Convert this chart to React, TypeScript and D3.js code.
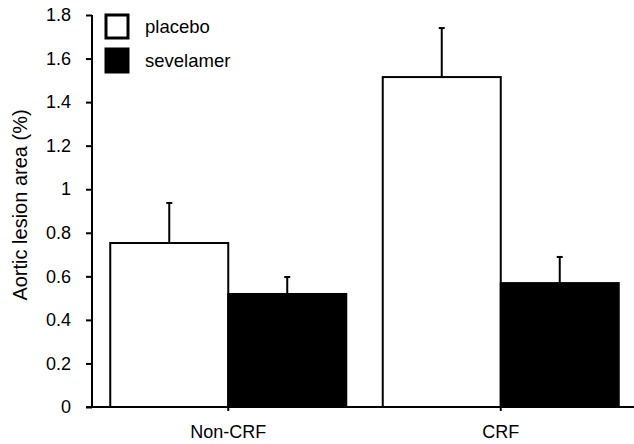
import React, { useEffect, useRef } from "react";
import * as d3 from "d3";

const categories = ["Non-CRF", "CRF"];
const groups = ["placebo", "sevelamer"];
const placeboValues = [0.753, 1.515];
const placeboErrors = [0.937, 1.74];
const sevelamerValues = [0.519, 0.569];
const sevelamerErrors = [0.597, 0.689];
const yTicks = [0, 0.2, 0.4, 0.6, 0.8, 1, 1.2, 1.4, 1.6, 1.8];
const groupFills = ["#ffffff", "#000000"];

export default function App() {
  const ref = useRef<SVGSVGElement>(null);

  useEffect(() => {
    const svg = d3.select(ref.current);
    svg.selectAll("*").remove();

    const x0 = 92,
      x1 = 637,
      yTop = 15,
      yBase = 407;

    const xScale = d3.scaleBand().domain(categories).range([x0, x1]).paddingInner(0).paddingOuter(0);
    const inner = d3.scaleBand().domain(groups).range([0, 236]);
    const yScale = d3.scaleLinear().domain([0, 1.8]).range([yBase, yTop]);

    const font = "'Liberation Sans', Arial, sans-serif";

    const rows = categories.flatMap((c, i) => [
      { cat: c, grp: "placebo", v: placeboValues[i], e: placeboErrors[i], fill: groupFills[0] },
      { cat: c, grp: "sevelamer", v: sevelamerValues[i], e: sevelamerErrors[i], fill: groupFills[1] }
    ]);

    const barX = (d: any) => xScale(d.cat)! + xScale.bandwidth() / 2 - 118 + inner(d.grp)!;

    // bars
    svg
      .selectAll("rect.bar")
      .data(rows)
      .enter()
      .append("rect")
      .attr("class", "bar")
      .attr("x", d => barX(d))
      .attr("y", d => yScale(d.v))
      .attr("width", inner.bandwidth())
      .attr("height", d => yBase - yScale(d.v))
      .attr("fill", d => d.fill)
      .attr("stroke", "#000")
      .attr("stroke-width", 2);

    // error bars
    const eb = svg.selectAll("g.err").data(rows).enter().append("g");
    eb.append("line")
      .attr("x1", d => barX(d) + inner.bandwidth() / 2)
      .attr("x2", d => barX(d) + inner.bandwidth() / 2)
      .attr("y1", d => yScale(d.v))
      .attr("y2", d => yScale(d.e))
      .attr("stroke", "#000")
      .attr("stroke-width", 2);
    eb.append("line")
      .attr("x1", d => barX(d) + inner.bandwidth() / 2 - 3)
      .attr("x2", d => barX(d) + inner.bandwidth() / 2 + 3)
      .attr("y1", d => yScale(d.e))
      .attr("y2", d => yScale(d.e))
      .attr("stroke", "#000")
      .attr("stroke-width", 2);

    // y axis
    const yAxis = svg
      .append("g")
      .attr("transform", `translate(${x0},0)`)
      .call(
        d3
          .axisLeft(yScale)
          .tickValues(yTicks)
          .tickSize(6)
          .tickPadding(15)
          .tickFormat(d => String(d))
      );
    yAxis.select(".domain").attr("stroke", "#000").attr("stroke-width", 2).attr("d", `M0,${yTop}V${yBase}`);
    yAxis.selectAll(".tick line").attr("stroke-width", 2);
    yAxis.selectAll("text").attr("font-family", font).attr("font-size", 18).attr("fill", "#000");

    // x axis
    const xAxis = svg
      .append("g")
      .attr("transform", `translate(0,${yBase})`)
      .call(d3.axisBottom(xScale).tickSize(4).tickPadding(14));
    xAxis.select(".domain").attr("stroke-width", 2).attr("d", `M86,0H634`);
    xAxis.selectAll(".tick line").attr("stroke-width", 2);
    xAxis.selectAll("text").attr("font-family", font).attr("font-size", 18).attr("fill", "#000");

    // y title
    svg
      .append("text")
      .attr("transform", `translate(27,${205}) rotate(-90)`)
      .attr("text-anchor", "middle")
      .attr("font-family", font)
      .attr("font-size", 20)
      .text("Aortic lesion area (%)");

    // legend
    const legend = svg
      .selectAll("g.legend")
      .data(groups)
      .enter()
      .append("g")
      .attr("transform", (d, i) => `translate(106,${15 + i * 34})`);
    legend
      .append("rect")
      .attr("width", 22)
      .attr("height", 23)
      .attr("fill", (d, i) => groupFills[i])
      .attr("stroke", "#000")
      .attr("stroke-width", 3);
    legend
      .append("text")
      .attr("x", 39)
      .attr("y", 18)
      .attr("font-family", font)
      .attr("font-size", 18.5)
      .text(d => d);
  }, []);

  return (
    <svg
      ref={ref}
      width={634}
      height={444}
      style={{ position: "absolute", left: 0, top: 0, background: "#fff" }}
    />
  );
}
